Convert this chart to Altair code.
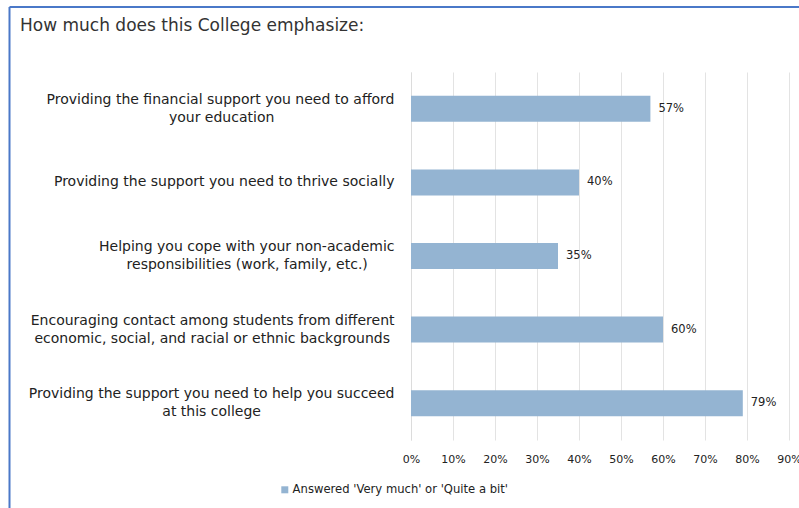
import altair as alt
import pandas as pd

# ---- data ----
question_line1 = [
    "Providing the financial support you need to afford",
    "Providing the support you need to thrive socially",
    "Helping you cope with your non-academic",
    "Encouraging contact among students from different",
    "Providing the support you need to help you succeed",
]
question_line2 = [
    "your education",
    "",
    "responsibilities (work, family, etc.)",
    "economic, social, and racial or ethnic backgrounds",
    "at this college",
]
percent_answered = [0.57, 0.40, 0.35, 0.60, 0.79]
series_name = "Answered 'Very much' or 'Quite a bit'"
tick_values = [0.0, 0.1, 0.2, 0.3, 0.4, 0.5, 0.6, 0.7, 0.8, 0.9]
chart_title = "How much does this College emphasize:"

FONT = "DejaVu Sans"
LABEL_SIZE = 14

# approximate DejaVu Sans advance widths (em) to centre the two lines of a label
W = {' ': 0.318, 'a': 0.613, 'b': 0.635, 'c': 0.550, 'd': 0.635, 'e': 0.615,
     'f': 0.352, 'g': 0.635, 'h': 0.634, 'i': 0.278, 'j': 0.278, 'k': 0.579,
     'l': 0.278, 'm': 0.974, 'n': 0.634, 'o': 0.612, 'p': 0.635, 'q': 0.635,
     'r': 0.411, 's': 0.521, 't': 0.392, 'u': 0.634, 'v': 0.592, 'w': 0.818,
     'x': 0.592, 'y': 0.592, 'z': 0.525, ',': 0.318, '.': 0.318, '(': 0.390,
     ')': 0.390, '-': 0.361}
NBSP = "\u00a0"
ZWSP = "\u200b"  # keeps the trailing no-break spaces from being trimmed


def text_width(s):
    return sum(W.get(ch, 0.68) for ch in s)


def build_label(l1, l2):
    if not l2:
        return l1
    diff = text_width(l1) - text_width(l2)
    n = int(round(abs(diff) / 2 / W[' ']))
    if diff > 0:
        l2 = l2 + NBSP * n + ZWSP
    else:
        l1 = l1 + NBSP * n + ZWSP
    return l1 + "\n" + l2


labels = [build_label(a, b) for a, b in zip(question_line1, question_line2)]
df = pd.DataFrame({"question": labels, "value": percent_answered,
                   "series": [series_name] * len(labels)})

y_enc = alt.Y(
    "question:N", sort=None,
    scale=alt.Scale(paddingInner=0, paddingOuter=0),
    axis=alt.Axis(title=None, labelExpr="split(datum.label, '\\n')",
                  labelFont=FONT, labelFontSize=LABEL_SIZE, labelColor="#222222",
                  labelLineHeight=18, labelLimit=600, labelPadding=17,
                  labelOffset={"condition": {"test": "indexof(datum.value, '\\n') >= 0",
                                             "value": -9}, "value": 0},
                  ticks=False, domainColor="#dcdcdc", grid=False),
)
x_enc = alt.X(
    "value:Q",
    scale=alt.Scale(domain=[0, 0.9], nice=False),
    axis=alt.Axis(title=None, values=tick_values, format=".0%", grid=True,
                  gridColor="#e3e3e3", domain=False, ticks=False,
                  labelFont=FONT, labelFontSize=11, labelColor="#222222",
                  labelPadding=13, labelFlush=False, labelOverlap=False),
)

base = alt.Chart(df)
bars = base.mark_bar(size=26).encode(
    y=y_enc, x=x_enc,
    color=alt.Color("series:N", scale=alt.Scale(range=["#94b4d2"]),
                    legend=alt.Legend(title=None, orient="none", legendX=-132,
                                      legendY=412, symbolType="square",
                                      symbolSize=49, symbolStrokeWidth=0,
                                      labelFont=FONT, labelFontSize=11.6,
                                      labelColor="#222222", labelOffset=2,
                                      labelLimit=400, padding=0)),
)
values_text = base.mark_text(align="left", baseline="middle", dx=8,
                             font=FONT, fontSize=11.5, color="#222222").encode(
    y=alt.Y("question:N", sort=None),
    x=alt.X("value:Q"),
    text=alt.Text("value:Q", format=".0%"),
)

one = alt.Data(values=[{}])
title_mark = alt.Chart(one).mark_text(
    text=chart_title, align="left", baseline="alphabetic",
    font=FONT, fontSize=17, color="#333333").encode(
    x=alt.value(-391), y=alt.value(-41))
border_left = alt.Chart(one).mark_rule(color="#4a78c8", strokeWidth=2).encode(
    x=alt.value(-401.5), y=alt.value(-65), y2=alt.value(436))
border_top = alt.Chart(one).mark_rule(color="#4a78c8", strokeWidth=2).encode(
    x=alt.value(-401.5), x2=alt.value(388), y=alt.value(-65))

chart = alt.layer(border_left, border_top, bars, values_text, title_mark).properties(
    width=378, height=368,
    padding={"left": 411, "top": 72, "right": 10, "bottom": 68},
    autosize=alt.AutoSizeParams(type="none"),
    background="white",
).configure_view(stroke=None)

chart.save("out.html", embed_options={"renderer": "svg", "actions": False})
